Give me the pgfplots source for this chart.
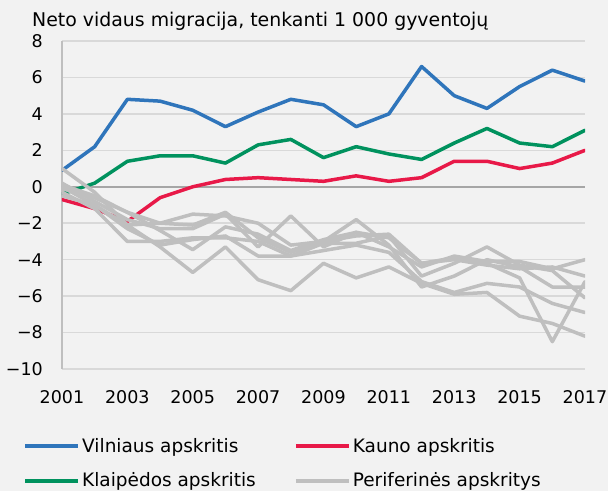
\documentclass[border=0pt]{standalone}
\usepackage{fontspec}
\setmainfont{DejaVu Sans}
\usepackage{pgfplots}
\pgfplotsset{compat=1.18}
\definecolor{bgc}{HTML}{F2F2F2}
\definecolor{vil}{RGB}{47,117,187}
\definecolor{kau}{RGB}{232,25,72}
\definecolor{kla}{RGB}{0,146,94}
\definecolor{per}{RGB}{191,191,191}
\definecolor{gridc}{RGB}{217,217,217}
\definecolor{zeroc}{RGB}{166,166,166}
\definecolor{leftc}{RGB}{191,191,191}
\begin{document}
\begin{tikzpicture}
\useasboundingbox[fill=bgc] (-62pt,-122pt) rectangle (546pt,369pt);
\node[anchor=base west, inner sep=0pt, font=\fontsize{18.9}{22}\selectfont] at (-30pt,342pt) {Neto vidaus migracija, tenkanti 1 000 gyventojų};
\begin{axis}[
  at={(0pt,0pt)}, anchor=south west,
  scale only axis, width=523pt, height=328pt,
  xmin=2001, xmax=2017, ymin=-10, ymax=8,
  xtick={2001,2003,...,2017},
  xticklabels={2001,2003,2005,2007,2009,2011,2013,2015,2017},
  ytick={-10,-8,...,8},
  yticklabels={−10,−8,−6,−4,−2,0,2,4,6,8},
  major tick length=0pt,
  axis x line*=bottom, axis y line*=left,
  x axis line style={draw=gridc, line width=1.5pt},
  y axis line style={draw=leftc, line width=1.5pt},
  ymajorgrids, grid style={draw=gridc, line width=1.5pt},
  extra y ticks={0}, extra y tick labels={},
  extra y tick style={grid style={draw=zeroc, line width=1.5pt}},
  tick label style={font=\fontsize{17.5}{20}\selectfont},
  xticklabel style={inner sep=0pt, anchor=north, yshift=-21pt},
  yticklabel style={inner sep=0pt, anchor=east, xshift=-19pt},
  legend columns=2,
  legend style={at={(axis description cs:0,0)}, anchor=north west,
    xshift=-39pt, yshift=-67pt, draw=none, fill=none, inner sep=0pt,
    font=\fontsize{18.5}{22}\selectfont, row sep=15pt,
    /tikz/every even column/.append style={column sep=36pt}},
  legend cell align=left,
  legend image code/.code={\draw[#1, line width=4pt, line cap=butt] (0pt,0pt) -- (53pt,0pt);},
  every axis plot/.append style={line width=3.5pt, line join=round, line cap=round, mark=none},
]
\addplot[vil] coordinates {(2001,0.9)(2002,2.2)(2003,4.8)(2004,4.7)(2005,4.2)(2006,3.3)(2007,4.1)(2008,4.8)(2009,4.5)(2010,3.3)(2011,4.0)(2012,6.6)(2013,5.0)(2014,4.3)(2015,5.5)(2016,6.4)(2017,5.8)};
\addlegendentry{Vilniaus apskritis}
\addplot[kau] coordinates {(2001,-0.7)(2002,-1.2)(2003,-1.9)(2004,-0.6)(2005,0.0)(2006,0.4)(2007,0.5)(2008,0.4)(2009,0.3)(2010,0.6)(2011,0.3)(2012,0.5)(2013,1.4)(2014,1.4)(2015,1.0)(2016,1.3)(2017,2.0)};
\addlegendentry{Kauno apskritis}
\addplot[kla] coordinates {(2001,-0.4)(2002,0.2)(2003,1.4)(2004,1.7)(2005,1.7)(2006,1.3)(2007,2.3)(2008,2.6)(2009,1.6)(2010,2.2)(2011,1.8)(2012,1.5)(2013,2.4)(2014,3.2)(2015,2.4)(2016,2.2)(2017,3.1)};
\addlegendentry{Klaipėdos apskritis}
\addplot[per] coordinates {(2001,0.0)(2002,-1.0)(2003,-2.1)(2004,-3.3)(2005,-4.7)(2006,-3.3)(2007,-5.1)(2008,-5.7)(2009,-4.2)(2010,-5.0)(2011,-4.4)(2012,-5.3)(2013,-5.9)(2014,-5.8)(2015,-7.1)(2016,-7.5)(2017,-8.2)};
\addlegendentry{Periferinės apskritys}
\addplot[per, forget plot] coordinates {(2001,0.2)(2002,-0.8)(2003,-1.8)(2004,-2.3)(2005,-2.3)(2006,-1.5)(2007,-3.3)(2008,-1.6)(2009,-3.3)(2010,-2.5)(2011,-2.8)(2012,-4.2)(2013,-4.0)(2014,-4.3)(2015,-4.5)(2016,-4.4)(2017,-4.9)};
\addplot[per, forget plot] coordinates {(2001,1.0)(2002,-0.3)(2003,-2.1)(2004,-2.0)(2005,-2.1)(2006,-1.4)(2007,-2.8)(2008,-3.6)(2009,-3.0)(2010,-1.8)(2011,-3.2)(2012,-5.5)(2013,-4.9)(2014,-4.0)(2015,-4.4)(2016,-5.5)(2017,-5.5)};
\addplot[per, forget plot] coordinates {(2001,-0.3)(2002,-1.2)(2003,-3.0)(2004,-3.0)(2005,-2.8)(2006,-2.8)(2007,-3.0)(2008,-3.8)(2009,-3.1)(2010,-3.1)(2011,-2.7)(2012,-4.9)(2013,-4.2)(2014,-3.3)(2015,-4.3)(2016,-4.6)(2017,-6.1)};
\addplot[per, forget plot] coordinates {(2001,-0.1)(2002,-0.6)(2003,-1.4)(2004,-2.0)(2005,-1.5)(2006,-1.6)(2007,-2.0)(2008,-3.2)(2009,-3.0)(2010,-2.7)(2011,-2.6)(2012,-4.2)(2013,-3.9)(2014,-4.2)(2015,-5.0)(2016,-8.5)(2017,-5.2)};
\addplot[per, forget plot] coordinates {(2001,0.1)(2002,-0.5)(2003,-1.4)(2004,-2.4)(2005,-3.45)(2006,-2.2)(2007,-2.6)(2008,-3.5)(2009,-2.9)(2010,-2.5)(2011,-3.3)(2012,-4.4)(2013,-3.8)(2014,-4.1)(2015,-4.1)(2016,-4.5)(2017,-4.0)};
\addplot[per, forget plot] coordinates {(2001,-0.5)(2002,-1.0)(2003,-2.3)(2004,-3.2)(2005,-2.9)(2006,-2.7)(2007,-3.8)(2008,-3.8)(2009,-3.5)(2010,-3.2)(2011,-3.6)(2012,-5.2)(2013,-5.8)(2014,-5.3)(2015,-5.5)(2016,-6.4)(2017,-6.9)};
\end{axis}
\end{tikzpicture}
\end{document}
